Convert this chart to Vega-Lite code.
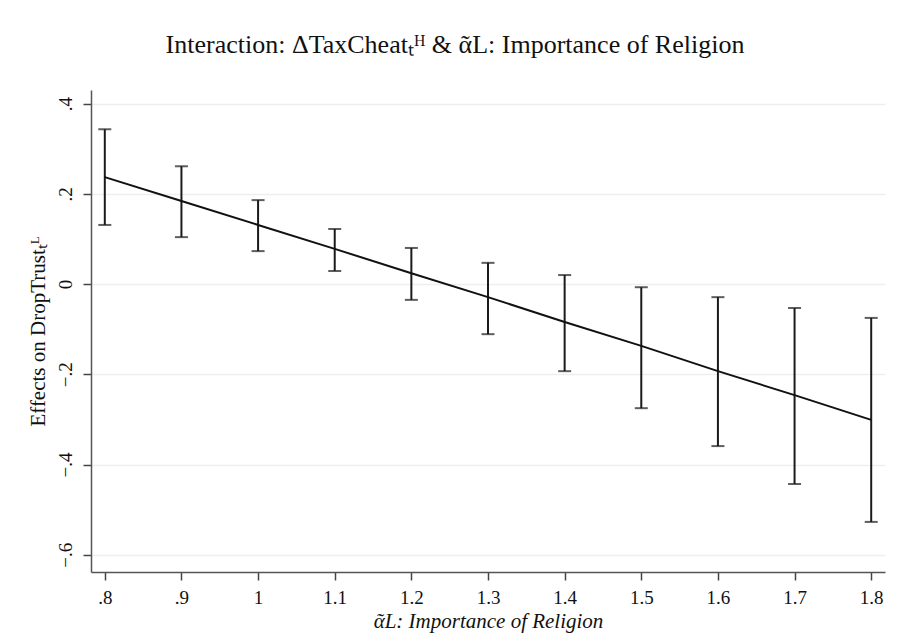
{
  "$schema": "https://vega.github.io/schema/vega-lite/v6.json",
  "width": 794,
  "height": 482,
  "autosize": {"type": "none"},
  "padding": {"left": 91, "top": 90, "right": 24, "bottom": 70},
  "background": "white",
  "config": {
    "view": {"stroke": null},
    "font": "Liberation Serif"
  },
  "title": {
    "text": "Interaction: ΔTaxCheatₜᴴ & ᾶL: Importance of Religion",
    "font": "Liberation Serif",
    "fontSize": 26,
    "fontWeight": "normal",
    "color": "#111111",
    "anchor": "middle",
    "dx": -33,
    "offset": 32
  },
  "data": {
    "values": [
      {"x": 0.8, "est": 0.237, "lo": 0.131, "hi": 0.343},
      {"x": 0.9, "est": 0.184, "lo": 0.104, "hi": 0.261},
      {"x": 1.0, "est": 0.131, "lo": 0.073, "hi": 0.186},
      {"x": 1.1, "est": 0.078, "lo": 0.029, "hi": 0.122},
      {"x": 1.2, "est": 0.024, "lo": -0.035, "hi": 0.080},
      {"x": 1.3, "est": -0.029, "lo": -0.111, "hi": 0.047},
      {"x": 1.4, "est": -0.084, "lo": -0.193, "hi": 0.020},
      {"x": 1.5, "est": -0.137, "lo": -0.275, "hi": -0.007},
      {"x": 1.6, "est": -0.193, "lo": -0.359, "hi": -0.029},
      {"x": 1.7, "est": -0.246, "lo": -0.443, "hi": -0.053},
      {"x": 1.8, "est": -0.301, "lo": -0.527, "hi": -0.075}
    ]
  },
  "encoding": {
    "x": {
      "field": "x",
      "type": "quantitative",
      "scale": {"domain": [0.782, 1.818], "nice": false, "zero": false},
      "axis": {
        "title": "ᾶL: Importance of Religion",
        "titleFont": "Liberation Serif",
        "titleFontStyle": "italic",
        "titleFontWeight": "normal",
        "titleFontSize": 21,
        "titleColor": "#111111",
        "titlePadding": 3,
        "values": [0.8, 0.9, 1.0, 1.1, 1.2, 1.3, 1.4, 1.5, 1.6, 1.7, 1.8],
        "labelExpr": "datum.value < 0.95 ? replace(format(datum.value, '.1f'), '0.', '.') : (abs(datum.value - 1) < 0.01 ? '1' : format(datum.value, '.1f'))",
        "labelFont": "Liberation Serif",
        "labelFontSize": 19,
        "labelColor": "#111111",
        "labelPadding": 8,
        "tickSize": 8,
        "tickColor": "#444444",
        "tickWidth": 1.5,
        "domainColor": "#555555",
        "domainWidth": 1.5,
        "grid": false
      }
    }
  },
  "layer": [
    {
      "mark": {"type": "rule", "color": "#1a1a1a", "strokeWidth": 2},
      "encoding": {
        "y": {
          "field": "lo",
          "type": "quantitative",
          "scale": {"domain": [-0.638, 0.43], "nice": false, "zero": false},
          "axis": {
            "title": "Effects on DropTrustₜᴸ",
            "titleFont": "Liberation Serif",
            "titleFontWeight": "normal",
            "titleFontSize": 21,
            "titleColor": "#111111",
            "titlePadding": 8,
            "values": [0.4, 0.2, 0, -0.2, -0.4, -0.6],
            "labelExpr": "abs(datum.value) < 0.001 ? '0' : replace(format(datum.value, '.1f'), '0.', '.')",
            "labelFont": "Liberation Serif",
            "labelFontSize": 19,
            "labelColor": "#111111",
            "labelAngle": -90,
            "labelAlign": "center",
            "labelBaseline": "bottom",
            "labelPadding": 8,
            "tickSize": 8,
            "tickColor": "#444444",
            "tickWidth": 1.5,
            "domainColor": "#555555",
            "domainWidth": 1.5,
            "grid": true,
            "gridColor": "#eeeeee",
            "gridWidth": 1.5
          }
        },
        "y2": {"field": "hi"}
      }
    },
    {
      "mark": {"type": "tick", "orient": "horizontal", "color": "#1a1a1a", "size": 13, "thickness": 2},
      "encoding": {"y": {"field": "lo", "type": "quantitative"}}
    },
    {
      "mark": {"type": "tick", "orient": "horizontal", "color": "#1a1a1a", "size": 13, "thickness": 2},
      "encoding": {"y": {"field": "hi", "type": "quantitative"}}
    },
    {
      "mark": {"type": "line", "color": "#111111", "strokeWidth": 2},
      "encoding": {"y": {"field": "est", "type": "quantitative"}}
    }
  ]
}
